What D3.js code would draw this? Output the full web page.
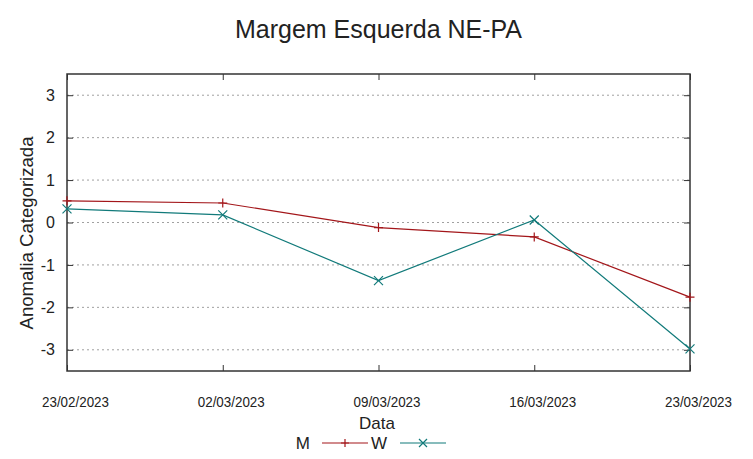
<!DOCTYPE html>
<html>
<head>
<meta charset="utf-8">
<script src="https://cdn.jsdelivr.net/npm/d3@7"></script>
<style>
  body { margin: 0; background: #fff; }
  text { font-family: "Liberation Sans", Arial, sans-serif; fill: #222; }
</style>
</head>
<body>
<svg id="svg" width="753" height="459"></svg>
<script>
// data
const dates = ['23/02/2023', '02/03/2023', '09/03/2023', '16/03/2023', '23/03/2023'];
const serieM = [0.51, 0.46, -0.12, -0.34, -1.76];
const serieW = [0.32, 0.18, -1.37, 0.06, -2.98];
const yTicks = [-3, -2, -1, 0, 1, 2, 3];

const svg = d3.select('#svg');
const margin = { top: 74, right: 63, bottom: 88, left: 67 };
const width = 753 - margin.left - margin.right;
const height = 459 - margin.top - margin.bottom;

const x = d3.scalePoint().domain(dates).range([0, width]);
const y = d3.scaleLinear().domain([-3.5, 3.5]).range([height, 0]);

const g = svg.append('g').attr('transform', `translate(${margin.left},${margin.top})`);

// dotted grid
g.selectAll('.grid')
  .data(yTicks)
  .enter()
  .append('line')
  .attr('x1', 0).attr('x2', width)
  .attr('y1', d => y(d)).attr('y2', d => y(d))
  .attr('stroke', '#a0a0a0')
  .attr('stroke-width', 1)
  .attr('stroke-dasharray', '2,3');

// y axis, ticks on both sides, plain hyphen for negatives
const yAxis = g.append('g')
  .call(d3.axisLeft(y).tickValues(yTicks).tickSize(-6).tickPadding(12).tickFormat(d => String(d)));
yAxis.select('.domain').remove();
yAxis.selectAll('line').attr('stroke', '#333');
yAxis.selectAll('text').style('font-size', '16px').attr('fill', '#222');

const yAxisR = g.append('g').attr('transform', `translate(${width},0)`)
  .call(d3.axisRight(y).tickValues(yTicks).tickSize(-6).tickFormat(''));
yAxisR.select('.domain').remove();
yAxisR.selectAll('line').attr('stroke', '#333');

// x axis, labels sit a bit right of the ticks
const xAxis = g.append('g').attr('transform', `translate(0,${height})`)
  .call(d3.axisBottom(x).tickSize(-6).tickPadding(26));
xAxis.select('.domain').remove();
xAxis.selectAll('line').attr('stroke', '#333');
xAxis.selectAll('text')
  .style('font-size', '14px')
  .attr('fill', '#222')
  .attr('dx', 8)
  .attr('textLength', 67)
  .attr('lengthAdjust', 'spacingAndGlyphs');

const xAxisT = g.append('g')
  .call(d3.axisTop(x).tickSize(-6).tickFormat(''));
xAxisT.select('.domain').remove();
xAxisT.selectAll('line').attr('stroke', '#333');

// frame
g.append('rect')
  .attr('width', width).attr('height', height)
  .attr('fill', 'none').attr('stroke', '#333').attr('stroke-width', 1.5);

const series = [
  { name: 'M', values: serieM, color: '#a3161a', mark: 'plus' },
  { name: 'W', values: serieW, color: '#117a7a', mark: 'cross' }
];

const line = d3.line().x((d, i) => x(dates[i])).y(d => y(d));

const markPath = (type, s) => type === 'plus'
  ? `M${-s},0H${s}M0,${-s}V${s}`
  : `M${-s},${-s}L${s},${s}M${-s},${s}L${s},${-s}`;

series.forEach(s => {
  g.append('path')
    .datum(s.values)
    .attr('d', line)
    .attr('fill', 'none')
    .attr('stroke', s.color)
    .attr('stroke-width', 1.2);

  g.selectAll(`.mk-${s.name}`)
    .data(s.values)
    .enter()
    .append('path')
    .attr('transform', (d, i) => `translate(${x(dates[i])},${y(d)})`)
    .attr('d', markPath(s.mark, 4.5))
    .attr('fill', 'none')
    .attr('stroke', s.color)
    .attr('stroke-width', 1.2);
});

// title and labels
svg.append('text')
  .attr('x', 378.5).attr('y', 37.5)
  .attr('text-anchor', 'middle')
  .attr('textLength', 287)
  .attr('lengthAdjust', 'spacingAndGlyphs')
  .style('font-size', '26.5px')
  .text('Margem Esquerda NE-PA');

svg.append('text')
  .attr('transform', 'translate(33,233) rotate(-90)')
  .attr('text-anchor', 'middle')
  .attr('textLength', 193)
  .attr('lengthAdjust', 'spacingAndGlyphs')
  .style('font-size', '18.5px')
  .text('Anomalia Categorizada');

svg.append('text')
  .attr('x', 377).attr('y', 429)
  .attr('text-anchor', 'middle')
  .style('font-size', '17px')
  .text('Data');

// legend
const legend = svg.append('g').attr('transform', 'translate(0,443)');
const legendX = [{ label: 310, line: 322 }, { label: 387, line: 400 }];
series.forEach((s, i) => {
  const lx = legendX[i];
  legend.append('text')
    .attr('x', lx.label).attr('y', 5.5)
    .attr('text-anchor', 'end')
    .style('font-size', '17px')
    .text(s.name);
  legend.append('line')
    .attr('x1', lx.line).attr('x2', lx.line + 46)
    .attr('stroke', s.color).attr('stroke-width', 1.2);
  legend.append('path')
    .attr('transform', `translate(${lx.line + 23},0)`)
    .attr('d', markPath(s.mark, 4))
    .attr('fill', 'none')
    .attr('stroke', s.color)
    .attr('stroke-width', 1.2);
});
</script>
</body>
</html>
